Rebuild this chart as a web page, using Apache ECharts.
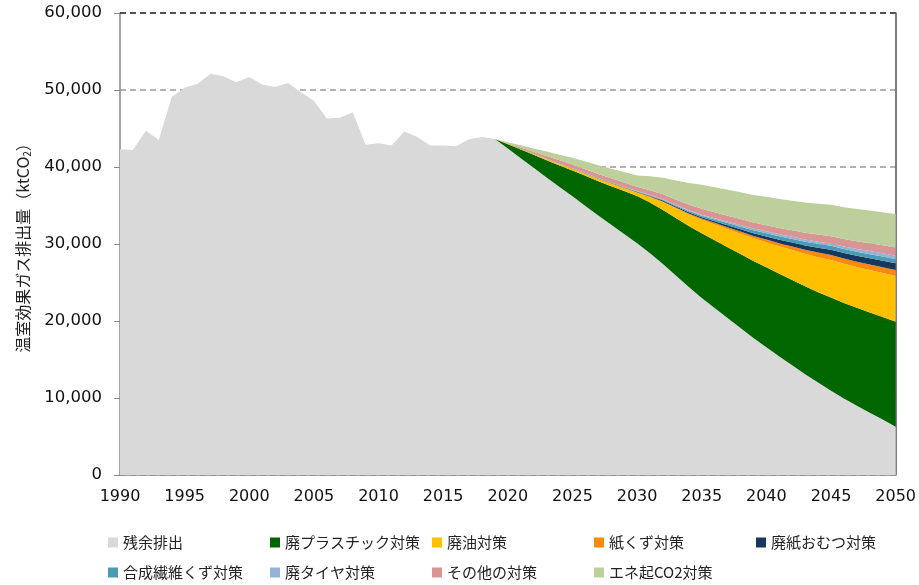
<!DOCTYPE html>
<html>
<head>
<meta charset="utf-8">
<script src="https://cdn.jsdelivr.net/npm/echarts@6/dist/echarts.min.js"></script>
<style>
  html, body { margin: 0; padding: 0; background: #fff; }
  #chart { width: 919px; height: 585px; }
</style>
</head>
<body>
<div id="chart"></div>
<script>
// 年 (1990-2050)
const years = [];
for (let y = 1990; y <= 2050; y++) years.push(String(y));

// 残余排出 1990-2050
const residual = [42300, 42200, 44700, 43500, 49100, 50300, 50800, 52100, 51800, 51000,
  51700, 50700, 50400, 50900, 49700, 48600, 46300, 46400, 47100, 42900,
  43100, 42800, 44600, 43900, 42800, 42800, 42700, 43600, 43900, 43640,
  42400, 41150, 39900, 38650, 37400, 36200, 34950, 33700, 32500, 31300,
  30100, 28800, 27400, 25900, 24400, 23000, 21700, 20400, 19100, 17800,
  16600, 15400, 14250, 13100, 12000, 10950, 9950, 9000, 8100, 7200, 6270];

// 対策による削減量 2019-2050
const plastic = [0, 560, 1120, 1680, 2240, 2800, 3360, 3910, 4460, 5010, 5570, 6130,
  6580, 7030, 7480, 7930, 8390, 8790, 9190, 9590, 9990, 10390,
  10730, 11070, 11410, 11750, 12090, 12400, 12710, 13020, 13330, 13640];
const wasteOil = [0, 40, 70, 100, 130, 165, 200, 245, 290, 335, 380, 430,
  700, 1000, 1250, 1500, 1750, 2050, 2350, 2650, 2950, 3250,
  3570, 3890, 4210, 4540, 4870, 5080, 5290, 5500, 5710, 5930];
const paper = [0, 5, 10, 12, 15, 18, 20, 26, 32, 38, 44, 50,
  75, 100, 120, 145, 170, 205, 240, 280, 315, 350,
  410, 470, 530, 590, 650, 675, 700, 730, 755, 780];
const diaper = [0, 5, 8, 11, 14, 17, 20, 28, 36, 44, 52, 60,
  85, 110, 130, 155, 180, 220, 265, 305, 350, 390,
  450, 510, 570, 630, 690, 725, 760, 800, 835, 870];
const fiber = [0, 5, 8, 11, 14, 17, 20, 28, 36, 44, 52, 60,
  85, 110, 130, 155, 180, 230, 280, 320, 370, 420,
  440, 460, 480, 500, 520, 525, 530, 535, 540, 540];
const tire = [0, 3, 6, 9, 12, 14, 15, 20, 25, 30, 35, 40,
  58, 76, 94, 112, 130, 155, 180, 210, 235, 260,
  270, 280, 290, 295, 300, 330, 360, 390, 420, 450];
const other = [0, 80, 170, 260, 350, 430, 500, 510, 520, 535, 550, 560,
  600, 640, 690, 735, 780, 780, 780, 780, 780, 780,
  815, 850, 880, 915, 950, 975, 1000, 1030, 1055, 1080];
const energyCO2 = [0, 130, 280, 430, 580, 730, 875, 1000, 1120, 1240, 1360, 1470,
  1800, 2130, 2460, 2790, 3120, 3240, 3350, 3470, 3580, 3700,
  3770, 3840, 3920, 4000, 4070, 4120, 4180, 4230, 4290, 4340];

const names = ['残余排出', '廃プラスチック対策', '廃油対策', '紙くず対策', '廃紙おむつ対策',
  '合成繊維くず対策', '廃タイヤ対策', 'その他の対策', 'エネ起CO2対策'];
const colors = ['#d9d9d9', '#006600', '#ffc000', '#fb8a0c', '#17375e',
  '#4a9bb4', '#95b3d7', '#d99594', '#bdd09b'];

// 2019年より前は空
const pad = arr => Array(29).fill('-').concat(arr);
const seriesValues = [residual, pad(plastic), pad(wasteOil), pad(paper), pad(diaper),
  pad(fiber), pad(tire), pad(other), pad(energyCO2)];

const chart = echarts.init(document.getElementById('chart'));

const series = names.map((n, i) => ({
  name: n,
  type: 'line',
  stack: 'total',
  data: seriesValues[i],
  symbol: 'none',
  showSymbol: false,
  lineStyle: { width: 0 },
  itemStyle: { color: colors[i] },
  areaStyle: { color: colors[i], opacity: 1 },
  emphasis: { disabled: true }
}));
// 上端の破線
series[0].markLine = {
  silent: true,
  symbol: 'none',
  label: { show: false },
  lineStyle: { color: '#333', type: [6, 4], width: 1.5 },
  data: [{ yAxis: 60000 }]
};

const option = {
  animation: false,
  textStyle: { fontFamily: 'DejaVu Sans, "Noto Sans CJK JP", sans-serif' },
  grid: { left: 120, right: 22, top: 13, bottom: 110 },
  legend: {
    data: names,
    left: 103,
    top: 525,
    width: 815,
    icon: 'rect',
    itemWidth: 10,
    itemHeight: 10,
    itemGap: 5,
    textStyle: {
      fontFamily: '"Noto Sans CJK JP", sans-serif',
      fontSize: 15,
      color: '#222',
      width: 142,
      lineHeight: 25
    }
  },
  xAxis: {
    type: 'category',
    data: years,
    boundaryGap: false,
    axisLine: { lineStyle: { color: '#888', width: 1.5 } },
    axisTick: { inside: true, length: 5, interval: 0, lineStyle: { color: '#888' } },
    axisLabel: { interval: 4, color: '#111', fontSize: 16, margin: 14 },
    splitLine: { show: false }
  },
  yAxis: [{
    type: 'value',
    min: 0,
    max: 60000,
    interval: 10000,
    name: '{a|温室効果ガス排出量（ktCO}{s|2}{a|）}',
    nameLocation: 'middle',
    nameGap: 88,
    nameTextStyle: {
      rich: {
        a: { fontFamily: '"Noto Sans CJK JP", sans-serif', fontSize: 16, color: '#222' },
        s: { fontFamily: '"Noto Sans CJK JP", sans-serif', fontSize: 10, color: '#222', padding: [8, 0, 0, 0] }
      }
    },
    axisLine: { show: true, lineStyle: { color: '#888', width: 1.5 } },
    axisTick: { show: true, length: 6, lineStyle: { color: '#888' } },
    axisLabel: {
      color: '#111', fontSize: 16.5, margin: 18,
      formatter: v => v.toLocaleString('en-US')
    },
    splitLine: { show: true, lineStyle: { color: '#9a9a9a', type: [6, 4], width: 1.5 } }
  }, {
    type: 'value',
    min: 0,
    max: 60000,
    position: 'right',
    axisLine: { show: true, lineStyle: { color: '#555', width: 1.5 } },
    axisTick: { show: false },
    axisLabel: { show: false },
    splitLine: { show: false }
  }],
  series: series
};

chart.setOption(option);
</script>
</body>
</html>
